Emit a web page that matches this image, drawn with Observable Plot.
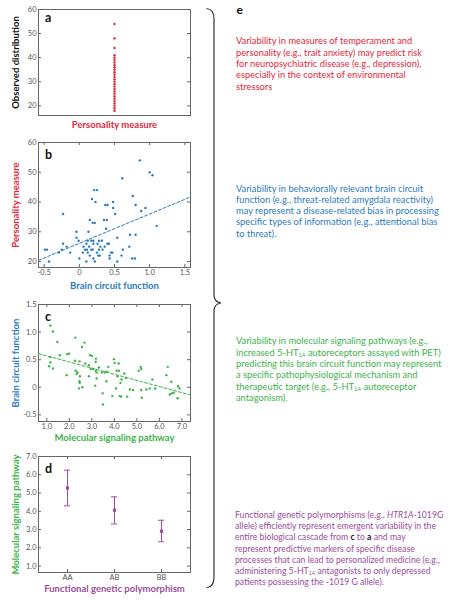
<!DOCTYPE html>
<html><head><meta charset="utf-8">
<script src="https://cdn.jsdelivr.net/npm/d3@7"></script>
<script src="https://cdn.jsdelivr.net/npm/@observablehq/plot@0.6"></script>
<style>
body{margin:0;background:#fff;}
#root{position:relative;width:451px;height:600px;overflow:hidden;font-family:Lato,sans-serif;background:#fff;}
.txt{position:absolute;font-size:9.3px;line-height:11.3px;white-space:nowrap;font-family:Lato,sans-serif;}
.txt sub{font-size:60%;vertical-align:-1px;line-height:0;}
</style></head><body><div id="root"></div>
<script>
const RED = "#e2273c", BLUE = "#2b7bbf", GREEN = "#3cb44b", PURPLE = "#9b4d9d", FRAME = "#666", TICKTXT = "#555";

// Panel a: observed distribution of personality measure
const aValues = [18,19,20,21,22,23,24,25,26,27,28,29,30,31,32,33,34,35,36,37,38,39,40,41,44,48,54];
const aTicks = [20,30,40,50,60];

// Panel b: brain circuit function (x) vs personality measure (y)
const bX = [0.86,1.0,1.04,0.61,0.21,0.25,0.18,0.76,0.23,0.48,0.37,0.40,0.80,0.48,0.94,0.88,0.51,-0.23,0.15,0.19,0.22,0.35,0.39,1.1,0.38,-0.04,0.13,0.72,0.80,0.54,-0.04,-0.01,
  0.12,0.17,0.20,0.28,0.32,
  -0.23,0.10,0.40,0.42,0.20,0.26,
  -0.18,0.71,0.06,0.14,0.30,0.36,
  -0.49,-0.46,-0.25,0.62,0.08,0.11,0.17,0.19,0.28,0.33,
  -0.29,-0.13,0.47,0.45,0.05,0.12,0.25,
  0.60,0.43,0.29,0.27,0.15,
  0.00,0.43,0.75,0.79,0.20,
  -0.43,0.10,0.22,0.54];
const bY = [54,50,49,48,44,44,41,42,40,40,39,39,39,38,38,37,36,36,34,33,33,34,34,32,31,30,30,29,29,28,28,27,
  27,27,27,27,27,
  26,26,26,26,26,26,
  25,25,25,25,25,25,
  24,24,24,24,24,24,24,24,24,24,
  23,23,23,23,23,23,23,
  22,22,22,22,22,
  21,21,21,21,21,
  20,20,20,20];
const bTrendX = [-0.58, 1.58];
const bTrendY = [20.4, 41.7];
const bXTicks = [-0.5,0,0.5,1.0,1.5];
const bYTicks = [20,30,40,50,60];

// Panel c: molecular signaling pathway (x) vs brain circuit function (y)
const cX = [1.16,1.27,1.47,1.15,1.58,1.91,1.99,1.10,1.27,1.16,2.27,2.67,2.56,2.92,3.01,3.18,3.17,2.25,2.45,2.71,2.87,2.95,3.06,3.17,3.21,2.87,1.88,2.28,2.36,2.33,2.47,2.45,2.46,2.43,2.58,
  3.32,3.45,3.58,3.68,3.73,3.65,3.98,4.01,4.19,4.10,4.20,4.14,4.44,4.51,4.32,4.27,4.07,3.91,4.24,3.48,3.49,3.15,3.21,
  5.17,5.19,5.08,5.69,5.81,5.57,5.42,4.69,4.83,5.19,5.22,4.57,4.30,6.37,6.31,6.53,6.63,6.55,6.46,6.83,6.89,6.81];
const cY = [1.12,1.01,0.82,0.55,0.58,0.60,0.61,0.38,0.34,0.45,0.90,0.81,0.73,0.58,0.57,0.52,0.46,0.48,0.47,0.43,0.40,0.33,0.33,0.30,0.27,0.20,0.22,0.30,0.27,0.24,0.20,0.11,0.08,-0.02,0.00,
  0.36,0.27,0.27,0.28,0.37,0.11,0.51,0.44,0.43,0.30,0.30,0.20,0.25,0.17,0.14,0.08,-0.02,-0.16,-0.16,-0.11,-0.31,0.03,0.16,
  0.37,0.33,0.30,0.14,-0.02,-0.02,-0.04,-0.04,-0.05,-0.05,-0.19,-0.17,-0.17,0.37,0.22,0.10,-0.10,-0.11,-0.13,0.02,-0.02,-0.20];
const cTrendX = [0.63, 7.38];
const cTrendY = [0.61, -0.14];
const cXTicks = [1,2,3,4,5,6,7];
const cYTicks = [-0.5,0,0.5,1.0,1.5];

// Panel d: genotype groups
const genotypes = ["AA","AB","BB"];
const dMean = [5.28,4.06,2.91];
const dLow = [4.30,3.31,2.33];
const dHigh = [6.25,4.79,3.51];
const dYTicks = [1,2,3,4,5,6,7];

const root = document.getElementById("root");
const FW = 152;
const fmt1 = d => d === 0 ? "0" : d.toFixed(1);

function yInner(vals) {
  return [Plot.tickY(vals, {y: d => d, insetRight: FW - 3, stroke: FRAME}),
          Plot.tickY(vals, {y: d => d, insetLeft: FW - 3, stroke: FRAME})];
}
function xInner(vals, fh) {
  return [Plot.tickX(vals, {x: d => d, insetTop: fh - 3, stroke: FRAME}),
          Plot.tickX(vals, {x: d => d, insetBottom: fh - 3, stroke: FRAME})];
}
function letter(t, dy) {
  return Plot.text([t], {frameAnchor: "top-left", textAnchor: "start", lineAnchor: "top", dx: 6.5, dy, fontSize: 12.5, fontWeight: "bold", fill: "#111"});
}
function yLabel(t, color) {
  return Plot.text([t], {frameAnchor: "left", textAnchor: "middle", lineAnchor: "middle", rotate: -90, dx: -23, fontSize: 9.5, fontWeight: "bold", fill: color});
}
function xLabel(t, color, dy) {
  return Plot.text([t], {frameAnchor: "bottom", textAnchor: "middle", lineAnchor: "middle", dy, fontSize: 9.5, fontWeight: "bold", fill: color});
}
function panel(top, mt, fh, mb, opts, marks) {
  const svg = Plot.plot({
    width: 38 + FW + 10, height: mt + fh + mb,
    marginLeft: 38, marginRight: 10, marginTop: mt, marginBottom: mb,
    style: {background: "transparent", fontFamily: "Lato, sans-serif", overflow: "visible"},
    ...opts, marks
  });
  svg.style.position = "absolute"; svg.style.left = "0px"; svg.style.top = top + "px";
  root.append(svg);
}

// Panel a
panel(0, 9, 106, 15, {y: {domain: [16, 60]}}, [
  Plot.frame({stroke: FRAME}),
  ...yInner(aTicks),
  Plot.axisY({ticks: aTicks, tickSize: 0, tickPadding: 2, fontSize: 7.5, fill: TICKTXT, label: null}),
  Plot.dot(aValues, {y: d => d, r: 1.2, fill: RED}),
  letter("a", 3.5),
  yLabel("Observed distribution", "#111"),
  xLabel("Personality measure", RED, 9)
]);

// Panel b
panel(130, 12, 125, 25, {x: {domain: [-0.58, 1.58]}, y: {domain: [18, 60]}}, [
  Plot.frame({stroke: FRAME}),
  ...yInner(bYTicks), ...xInner(bXTicks, 125),
  Plot.axisY({ticks: bYTicks, tickSize: 0, tickPadding: 2, fontSize: 7.5, fill: TICKTXT, label: null}),
  Plot.axisX({ticks: bXTicks, tickSize: 0, tickPadding: 2, fontSize: 7.5, fill: TICKTXT, label: null, tickFormat: fmt1}),
  Plot.line(bTrendX.map((x, i) => ({x, y: bTrendY[i]})), {x: "x", y: "y", stroke: BLUE, strokeWidth: 1, strokeDasharray: "3,2"}),
  Plot.dot(bX.map((x, i) => ({x, y: bY[i]})), {x: "x", y: "y", r: 1.2, fill: BLUE}),
  letter("b", 8),
  yLabel("Personality measure", RED),
  xLabel("Brain circuit function", BLUE, 18)
]);

// Panel c
panel(292, 12, 117, 22, {x: {domain: [0.63, 7.38]}, y: {domain: [-0.62, 1.5]}}, [
  Plot.frame({stroke: FRAME}),
  ...yInner(cYTicks), ...xInner(cXTicks, 117),
  Plot.axisY({ticks: cYTicks, tickSize: 0, tickPadding: 2, fontSize: 7.5, fill: TICKTXT, label: null, tickFormat: fmt1}),
  Plot.axisX({ticks: cXTicks, tickSize: 0, tickPadding: 2, fontSize: 7.5, fill: TICKTXT, label: null, tickFormat: fmt1}),
  Plot.line(cTrendX.map((x, i) => ({x, y: cTrendY[i]})), {x: "x", y: "y", stroke: GREEN, strokeWidth: 1, strokeDasharray: "3,2"}),
  Plot.dot(cX.map((x, i) => ({x, y: cY[i]})), {x: "x", y: "y", r: 1.2, fill: GREEN}),
  letter("c", 8),
  yLabel("Brain circuit function", BLUE),
  xLabel("Molecular signaling pathway", GREEN, 16.5)
]);

// Panel d
const dData = genotypes.map((g, i) => ({g, mean: dMean[i], lo: dLow[i], hi: dHigh[i]}));
panel(444, 12, 116, 24, {x: {type: "band", domain: genotypes, paddingInner: 0.874, paddingOuter: 0.5335}, y: {domain: [0.65, 7.0]}}, [
  Plot.frame({stroke: FRAME}),
  ...yInner(dYTicks), ...xInner(genotypes, 116),
  Plot.axisY({ticks: dYTicks, tickSize: 0, tickPadding: 2, fontSize: 7.5, fill: TICKTXT, label: null, tickFormat: d => d.toFixed(1)}),
  Plot.axisX({tickSize: 0, tickPadding: 2, fontSize: 7.5, fill: TICKTXT, label: null}),
  Plot.ruleX(dData, {x: "g", y1: "lo", y2: "hi", stroke: PURPLE, strokeWidth: 1}),
  Plot.tickY(dData, {x: "g", y: "hi", stroke: PURPLE, strokeWidth: 1}),
  Plot.tickY(dData, {x: "g", y: "lo", stroke: PURPLE, strokeWidth: 1}),
  Plot.dot(dData, {x: "g", y: "mean", symbol: "square", r: 1.8, fill: PURPLE}),
  letter("d", 8),
  yLabel("Molecular signaling pathway", GREEN),
  xLabel("Functional genetic polymorphism", PURPLE, 16.5)
]);

// Brace
const ns = "http://www.w3.org/2000/svg";
const br = document.createElementNS(ns, "svg");
br.setAttribute("width", 451); br.setAttribute("height", 600);
br.style.position = "absolute"; br.style.left = "0px"; br.style.top = "0px";
const p = document.createElementNS(ns, "path");
p.setAttribute("d", "M206.5,8.5 Q214,9 214,19 L214,295 Q214,302 221,303 Q214,304 214,311 L214,577 Q214,587 206.5,588");
p.setAttribute("fill", "none"); p.setAttribute("stroke", "#333"); p.setAttribute("stroke-width", "1.2");
br.append(p);
root.append(br);

// Text panel e
function addText(html, left, top, color, extra) {
  const d = document.createElement("div");
  d.className = "txt"; d.style.left = left + "px"; d.style.top = top + "px"; d.style.color = color;
  if (extra) Object.assign(d.style, extra);
  d.innerHTML = html;
  root.append(d);
}
addText("e", 236.5, 3.7, "#111", {fontSize: "12px", lineHeight: "12px", fontWeight: "bold"});
addText("Variability in measures of temperament and<br>personality (e.g., trait anxiety) may predict risk<br>for neuropsychiatric disease (e.g., depression),<br>especially in the context of environmental<br>stressors", 236, 35.4, RED);
addText("Variability in behaviorally relevant brain circuit<br>function (e.g., threat-related amygdala reactivity)<br>may represent a disease-related bias in processing<br>specific types of information (e.g., attentional bias<br>to threat).", 236, 182.6, BLUE);
addText("Variability in molecular signaling pathways (e.g.,<br>increased 5-HT<sub>1A</sub> autoreceptors assayed with PET)<br>predicting this brain circuit function may represent<br>a specific pathophysiological mechanism and<br>therapeutic target (e.g., 5-HT<sub>1A</sub> autoreceptor<br>antagonism).", 236, 335.4, GREEN);
addText("Functional genetic polymorphisms (e.g., <i>HTR1A</i>-1019G<br>allele) efficiently represent emergent variability in the<br>entire biological cascade from <b style=\"color:#222\">c</b> to <b style=\"color:#222\">a</b> and may<br>represent predictive markers of specific disease<br>processes that can lead to personalized medicine (e.g.,<br>administering 5-HT<sub>1A</sub> antagonists to only depressed<br>patients possessing the -1019 G allele).", 235, 508.7, PURPLE, {fontSize: "8.7px"});
</script></body></html>
